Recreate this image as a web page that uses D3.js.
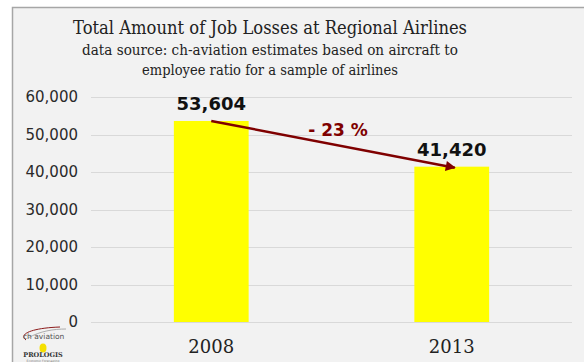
<!DOCTYPE html>
<html>
<head>
<meta charset="utf-8">
<script src="https://cdn.jsdelivr.net/npm/d3@7"></script>
<style>
  html, body { margin: 0; padding: 0; background: #ffffff; }
  svg { display: block; }
</style>
</head>
<body>
<svg id="chart" width="584" height="362"></svg>
<script>
// Job losses at regional airlines, by year
const categories = ["2008", "2013"];
const jobLosses = [53604, 41420];
const valueLabels = ["53,604", "41,420"];
const changeLabel = "- 23 %";
const yTicks = [0, 10000, 20000, 30000, 40000, 50000, 60000];

const titleLines = [
  "Total Amount of Job Losses at Regional Airlines",
  "data source: ch-aviation estimates based on aircraft to",
  "employee ratio for a sample of airlines"
];

const W = 584, H = 362;
const plot = { left: 91, right: 572, top: 97, bottom: 322 };

const svg = d3.select("#chart");

// panel background with its frame on the top and left edges
svg.append("rect")
  .attr("x", 12).attr("y", 7).attr("width", W - 12).attr("height", H - 7)
  .attr("fill", "#f2f2f2");
svg.append("path")
  .attr("d", `M12.5,${H} V7.5 H${W}`)
  .attr("fill", "none").attr("stroke", "#a6a6a6").attr("stroke-width", 1.5);

// titles, fitted to fixed widths
const serif = "'DejaVu Serif', serif";
const titleSpecs = [
  { y: 34, size: 19, len: 394 },
  { y: 55, size: 15.5, len: 376 },
  { y: 75, size: 15.5, len: 256 }
];
titleLines.forEach((t, i) => {
  svg.append("text")
    .attr("x", 270).attr("y", titleSpecs[i].y)
    .attr("text-anchor", "middle")
    .attr("font-family", serif).attr("font-size", titleSpecs[i].size)
    .attr("textLength", titleSpecs[i].len)
    .attr("lengthAdjust", "spacingAndGlyphs")
    .attr("fill", "#222")
    .text(t);
});

// scales
const y = d3.scaleLinear().domain([0, 60000]).range([plot.bottom, plot.top]);
const x = d3.scaleBand().domain(categories)
  .range([plot.left, plot.right])
  .paddingInner(0.689).paddingOuter(0.3445);

// horizontal gridlines
svg.append("g")
  .selectAll("line")
  .data(yTicks)
  .join("line")
  .attr("x1", plot.left).attr("x2", plot.right)
  .attr("y1", d => Math.round(y(d)) + 0.5).attr("y2", d => Math.round(y(d)) + 0.5)
  .attr("stroke", "#d9d9d9").attr("stroke-width", 1);

// y axis labels
const yAxis = d3.axisLeft(y)
  .tickValues(yTicks)
  .tickFormat(d3.format(","))
  .tickSize(0).tickPadding(13);
const gy = svg.append("g")
  .attr("transform", `translate(${plot.left},0)`)
  .call(yAxis);
gy.select(".domain").remove();
gy.selectAll("text")
  .attr("font-family", "'DejaVu Sans', sans-serif")
  .attr("font-size", 15)
  .attr("fill", "#2a2a2a");

// bars
svg.append("g")
  .selectAll("rect")
  .data(categories.map((c, i) => ({ c, v: jobLosses[i] })))
  .join("rect")
  .attr("x", d => x(d.c))
  .attr("y", d => y(d.v))
  .attr("width", x.bandwidth())
  .attr("height", d => y(0) - y(d.v))
  .attr("fill", "#ffff00");

// baseline over the bars
svg.append("line")
  .attr("x1", plot.left).attr("x2", plot.right)
  .attr("y1", Math.round(y(0)) + 0.5).attr("y2", Math.round(y(0)) + 0.5)
  .attr("stroke", "#d9d9d9");

// x axis labels
const xAxis = d3.axisBottom(x).tickSize(0).tickPadding(18);
const gx = svg.append("g")
  .attr("transform", `translate(0,${plot.bottom})`)
  .call(xAxis);
gx.select(".domain").remove();
gx.selectAll("text")
  .attr("font-family", serif)
  .attr("font-size", 18)
  .attr("fill", "#222");

// value labels
svg.append("g")
  .selectAll("text")
  .data(categories.map((c, i) => ({ c, v: jobLosses[i], label: valueLabels[i] })))
  .join("text")
  .attr("x", d => x(d.c) + x.bandwidth() / 2)
  .attr("y", d => y(d.v) - 11)
  .attr("text-anchor", "middle")
  .attr("font-family", "'DejaVu Sans', sans-serif")
  .attr("font-weight", "bold")
  .attr("font-size", 18)
  .attr("fill", "#111")
  .text(d => d.label);

// change arrow between the two bar tops
const arrowColor = "#7f0000";
svg.append("defs").append("marker")
  .attr("id", "arrowhead")
  .attr("viewBox", "0 0 10 10")
  .attr("refX", 9).attr("refY", 5)
  .attr("markerWidth", 5).attr("markerHeight", 4)
  .attr("orient", "auto")
  .append("path")
  .attr("d", "M0,0 L10,5 L0,10 Z")
  .attr("fill", arrowColor);

const x0 = x(categories[0]) + x.bandwidth() / 2;
const x1 = x(categories[1]) + x.bandwidth() / 2 + 3;
svg.append("line")
  .attr("x1", x0).attr("y1", y(jobLosses[0]))
  .attr("x2", x1).attr("y2", y(jobLosses[1]) + 1)
  .attr("stroke", arrowColor).attr("stroke-width", 2.5)
  .attr("marker-end", "url(#arrowhead)");

svg.append("text")
  .attr("x", 338).attr("y", 136)
  .attr("text-anchor", "middle")
  .attr("font-family", "'DejaVu Sans', sans-serif")
  .attr("font-weight", "bold")
  .attr("font-size", 17)
  .attr("fill", arrowColor)
  .text(changeLabel);

// small logo block in the lower-left corner
const logo = svg.append("g").attr("transform", "translate(18,322)");
logo.append("path")
  .attr("d", "M8,18 C0,12 14,6 42,5")
  .attr("fill", "none").attr("stroke", "#8b1a1a").attr("stroke-width", 1);
logo.append("path")
  .attr("d", "M10,16 C22,9 36,7 48,7")
  .attr("fill", "none").attr("stroke", "#999").attr("stroke-width", 0.8);
logo.append("text")
  .attr("x", 5).attr("y", 17)
  .attr("font-family", "'DejaVu Sans', sans-serif")
  .attr("font-size", 7.5).attr("fill", "#555")
  .text("ch aviation");
logo.append("ellipse")
  .attr("cx", 25).attr("cy", 26).attr("rx", 3.5).attr("ry", 4.5)
  .attr("fill", "#f5e000");
logo.append("text")
  .attr("x", 25).attr("y", 35)
  .attr("text-anchor", "middle")
  .attr("font-family", serif).attr("font-weight", "bold")
  .attr("font-size", 6.5).attr("fill", "#333")
  .text("PROLOGIS");
logo.append("text")
  .attr("x", 25).attr("y", 39.5)
  .attr("text-anchor", "middle")
  .attr("font-family", "'DejaVu Sans', sans-serif")
  .attr("font-size", 3).attr("fill", "#777")
  .text("Economic Forecasting");
</script>
</body>
</html>
